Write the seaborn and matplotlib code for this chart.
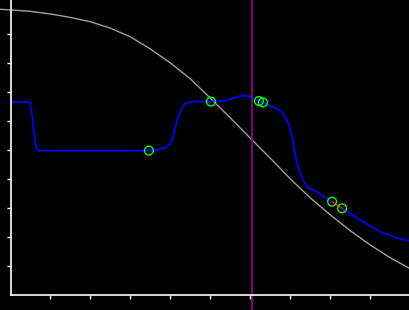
import matplotlib
matplotlib.use("Agg")
import matplotlib.pyplot as plt
import seaborn as sns
import pandas as pd

# ---- data ----
gray_x = [-0.26, 0.0, 0.5, 1.0, 1.5, 2.0, 2.5, 3.0, 3.5, 4.0, 4.5, 5.0, 5.5,
          6.0, 6.5, 7.0, 7.5, 8.0, 8.5, 9.0, 9.5, 10.0]
gray_y = [9.85, 9.83, 9.78, 9.69, 9.57, 9.42, 9.20, 8.90, 8.48, 8.00, 7.45,
          6.78, 6.10, 5.40, 4.71, 4.00, 3.34, 2.76, 2.21, 1.72, 1.28, 0.90]

blue_x = [0.0, 0.47, 0.505, 0.54, 0.57, 0.605, 0.64, 0.695, 3.46, 3.69, 3.86,
          3.99, 4.06, 4.11, 4.24, 4.36, 4.53, 5.01, 5.36, 5.61, 5.81, 5.99,
          6.19, 6.31, 6.49, 6.66, 6.81, 6.94, 7.04, 7.11, 7.19, 7.29, 7.41,
          7.66, 8.04]
blue_y = [6.65, 6.65, 6.55, 6.21, 5.80, 5.34, 5.09, 4.98, 4.98, 5.02, 5.07,
          5.21, 5.45, 5.76, 6.31, 6.59, 6.67, 6.67, 6.70, 6.80, 6.88, 6.84,
          6.71, 6.63, 6.52, 6.43, 6.28, 5.93, 5.45, 4.90, 4.41, 4.03, 3.72,
          3.55, 3.22]
blue2_x = [8.29, 8.74, 9.24, 9.66, 9.99]
blue2_y = [2.99, 2.59, 2.18, 1.97, 1.86]

red_x = [8.04, 8.29]
red_y = [3.22, 2.99]

marker_x = [3.46, 5.01, 6.21, 6.31, 8.04, 8.29]
marker_y = [4.98, 6.67, 6.69, 6.64, 3.22, 2.99]

vline_x = 6.045
ticks = [1, 2, 3, 4, 5, 6, 7, 8, 9]

# ---- figure ----
sns.set_style("dark", {"axes.facecolor": "black", "figure.facecolor": "black"})
fig = plt.figure(figsize=(4.1, 3.1), dpi=100)
fig.patch.set_facecolor("black")
ax = fig.add_axes([0, 0, 1, 1])
ax.set_facecolor("black")

xmin, xmax = -0.2625, 9.9875
ymin, ymax = -0.517, 10.172

sns.lineplot(data=pd.DataFrame({"x": gray_x, "y": gray_y}), x="x", y="y",
             sort=False, estimator=None, color="#a0a0a0", lw=1.0, ax=ax)
sns.lineplot(data=pd.DataFrame({"x": blue_x, "y": blue_y}), x="x", y="y",
             sort=False, estimator=None, color="#0000ff", lw=1.3, ax=ax)
sns.lineplot(data=pd.DataFrame({"x": blue2_x, "y": blue2_y}), x="x", y="y",
             sort=False, estimator=None, color="#0000ff", lw=1.3, ax=ax)
sns.lineplot(data=pd.DataFrame({"x": red_x, "y": red_y}), x="x", y="y",
             sort=False, estimator=None, color="#ff0000", lw=1.3, ax=ax)
ax.axvline(vline_x, color="#8a008a", lw=1.3)
sns.scatterplot(data=pd.DataFrame({"x": marker_x, "y": marker_y}), x="x", y="y",
                s=40, facecolor="none", edgecolor="#00ff00", linewidth=1.0,
                ax=ax, zorder=5)

ax.set_xlim(xmin, xmax)
ax.set_ylim(ymin, ymax)
ax.set_xlabel("")
ax.set_ylabel("")
ax.grid(False)

for s in ["top", "right"]:
    ax.spines[s].set_visible(False)
ax.spines["left"].set_position(("data", 0))
ax.spines["bottom"].set_position(("data", 0))
ax.spines["left"].set_bounds(0, ymax)
ax.spines["bottom"].set_bounds(0, xmax)
for s in ["left", "bottom"]:
    ax.spines[s].set_visible(True)
    ax.spines[s].set_color("white")
    ax.spines[s].set_linewidth(1.2)

ax.set_xticks(ticks)
ax.set_yticks(ticks)
ax.tick_params(axis="both", direction="out", length=3, width=1.0,
               colors="white", labelbottom=False, labelleft=False,
               bottom=True, left=True)

fig.savefig("out.png", dpi=100, facecolor="black")
